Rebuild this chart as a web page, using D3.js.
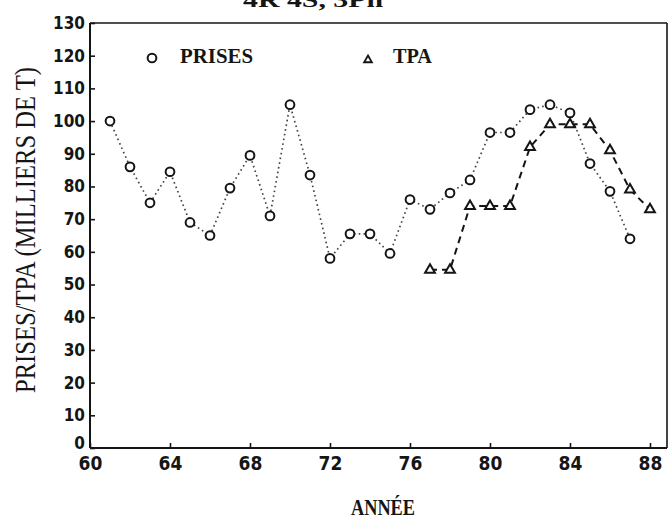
<!DOCTYPE html>
<html>
<head>
<meta charset="utf-8">
<script src="https://cdn.jsdelivr.net/npm/d3@7"></script>
<style>
  html, body { margin: 0; padding: 0; background: #fff; }
  svg { display: block; }
  .num { font-family: "Liberation Sans Narrow", "DejaVu Sans Condensed", sans-serif; font-weight: bold; fill: #151515; }
  .lbl { font-family: "Liberation Serif", "DejaVu Serif", serif; font-weight: bold; fill: #151515; }
</style>
</head>
<body>
<svg id="chart" width="669" height="519"></svg>
<script>
// Catches (PRISES) and TAC (TPA), thousands of tonnes, by year
const prisesYears = [61, 62, 63, 64, 65, 66, 67, 68, 69, 70, 71, 72, 73, 74, 75, 76, 77, 78, 79, 80, 81, 82, 83, 84, 85, 86, 87];
const prisesValues = [100, 86, 75, 84.5, 69, 65, 79.5, 89.5, 71, 105, 83.5, 58, 65.5, 65.5, 59.5, 76, 73, 78, 82, 96.5, 96.5, 103.5, 105, 102.5, 87, 78.5, 64];
const tpaYears = [77, 78, 79, 80, 81, 82, 83, 84, 85, 86, 87, 88];
const tpaValues = [54.5, 54.5, 74, 74, 74, 92, 99, 99, 99, 91, 79, 73];
const xTicks = [60, 64, 68, 72, 76, 80, 84, 88];
const yTicks = [0, 10, 20, 30, 40, 50, 60, 70, 80, 90, 100, 110, 120, 130];

(function () {
  const svg = d3.select("#chart");
  const ink = "#151515";

  const plotL = 90, plotR = 667, plotT = 23, plotB = 448;
  const x = d3.scaleLinear().domain([60, 88.85]).range([plotL, plotR]);
  const y = d3.scaleLinear().domain([0, 130]).range([plotB, plotT]);

  // heading, running off the top edge of the page
  svg.append("text").attr("class", "lbl")
    .attr("x", 243).attr("y", 7)
    .attr("font-size", 20)
    .attr("textLength", 140).attr("lengthAdjust", "spacingAndGlyphs")
    .text("4R 4S, 3Pn");

  // axes with inward ticks
  const yAxis = d3.axisLeft(y).tickValues(yTicks).tickSizeInner(-5).tickSizeOuter(0).tickPadding(5);
  const gy = svg.append("g").attr("transform", `translate(${plotL},0)`).call(yAxis);
  gy.select(".domain").remove();
  gy.selectAll("line").attr("stroke", ink).attr("stroke-width", 1.6);
  gy.selectAll("text").attr("class", "num").attr("font-size", 17).attr("fill", ink);
  // the zero label sits a little above the baseline
  gy.selectAll(".tick text").filter(d => d === 0).attr("y", -5);

  const xAxis = d3.axisBottom(x).tickValues(xTicks).tickSizeInner(-5).tickSizeOuter(0).tickPadding(9);
  const gx = svg.append("g").attr("transform", `translate(0,${plotB})`).call(xAxis);
  gx.select(".domain").remove();
  gx.selectAll("line").attr("stroke", ink).attr("stroke-width", 1.6);
  gx.selectAll("text").attr("class", "num").attr("font-size", 19).attr("fill", ink);

  // frame
  svg.append("line").attr("x1", plotL).attr("x2", plotL).attr("y1", plotT).attr("y2", plotB)
    .attr("stroke", ink).attr("stroke-width", 2);
  svg.append("line").attr("x1", plotL).attr("x2", plotR).attr("y1", plotB).attr("y2", plotB)
    .attr("stroke", ink).attr("stroke-width", 2);
  svg.append("line").attr("x1", plotL).attr("x2", plotR).attr("y1", plotT).attr("y2", plotT)
    .attr("stroke", ink).attr("stroke-width", 1.6);
  svg.append("line").attr("x1", plotR).attr("x2", plotR).attr("y1", plotT).attr("y2", plotB)
    .attr("stroke", ink).attr("stroke-width", 1.6);

  // axis titles
  svg.append("text")
    .attr("font-family", "'Liberation Serif', 'DejaVu Serif', serif")
    .attr("fill", ink)
    .attr("transform", "translate(35,393) rotate(-90)")
    .attr("font-size", 29)
    .attr("textLength", 326).attr("lengthAdjust", "spacingAndGlyphs")
    .text("PRISES/TPA (MILLIERS DE T)");

  svg.append("text").attr("class", "lbl")
    .attr("x", 351).attr("y", 515)
    .attr("font-size", 23)
    .attr("textLength", 64).attr("lengthAdjust", "spacingAndGlyphs")
    .text("ANNÉE");

  const prises = prisesYears.map((yr, i) => ({ yr, v: prisesValues[i] }));
  const tpa = tpaYears.map((yr, i) => ({ yr, v: tpaValues[i] }));

  const line = d3.line().x(d => x(d.yr)).y(d => y(d.v));

  // PRISES: dotted line
  svg.append("path").datum(prises).attr("d", line)
    .attr("fill", "none").attr("stroke", "#444").attr("stroke-width", 1.7)
    .attr("stroke-dasharray", "1.6,3.2").attr("stroke-linecap", "butt");

  // TPA: dashed line
  svg.append("path").datum(tpa).attr("d", line)
    .attr("fill", "none").attr("stroke", ink).attr("stroke-width", 2)
    .attr("stroke-dasharray", "7,5");

  const circleSym = d3.symbol().type(d3.symbolCircle).size(60);
  const triSym = d3.symbol().type(d3.symbolTriangle).size(42);

  svg.append("g").selectAll("path").data(prises).join("path")
    .attr("d", circleSym)
    .attr("transform", d => `translate(${x(d.yr)},${y(d.v)})`)
    .attr("fill", "#fff").attr("stroke", ink).attr("stroke-width", 2);

  svg.append("g").selectAll("path").data(tpa).join("path")
    .attr("d", triSym)
    .attr("transform", d => `translate(${x(d.yr)},${y(d.v)})`)
    .attr("fill", "#fff").attr("stroke", ink).attr("stroke-width", 2);

  // legend
  svg.append("path").attr("d", circleSym)
    .attr("transform", "translate(152,58)")
    .attr("fill", "#fff").attr("stroke", ink).attr("stroke-width", 2);
  svg.append("text").attr("class", "lbl")
    .attr("x", 180).attr("y", 63).attr("font-size", 22)
    .attr("textLength", 73).attr("lengthAdjust", "spacingAndGlyphs")
    .text("PRISES");
  svg.append("path").attr("d", d3.symbol().type(d3.symbolTriangle).size(26))
    .attr("transform", "translate(368,60)")
    .attr("fill", "#fff").attr("stroke", ink).attr("stroke-width", 1.8);
  svg.append("text").attr("class", "lbl")
    .attr("x", 393).attr("y", 63).attr("font-size", 22)
    .attr("textLength", 39).attr("lengthAdjust", "spacingAndGlyphs")
    .text("TPA");
})();
</script>
</body>
</html>
